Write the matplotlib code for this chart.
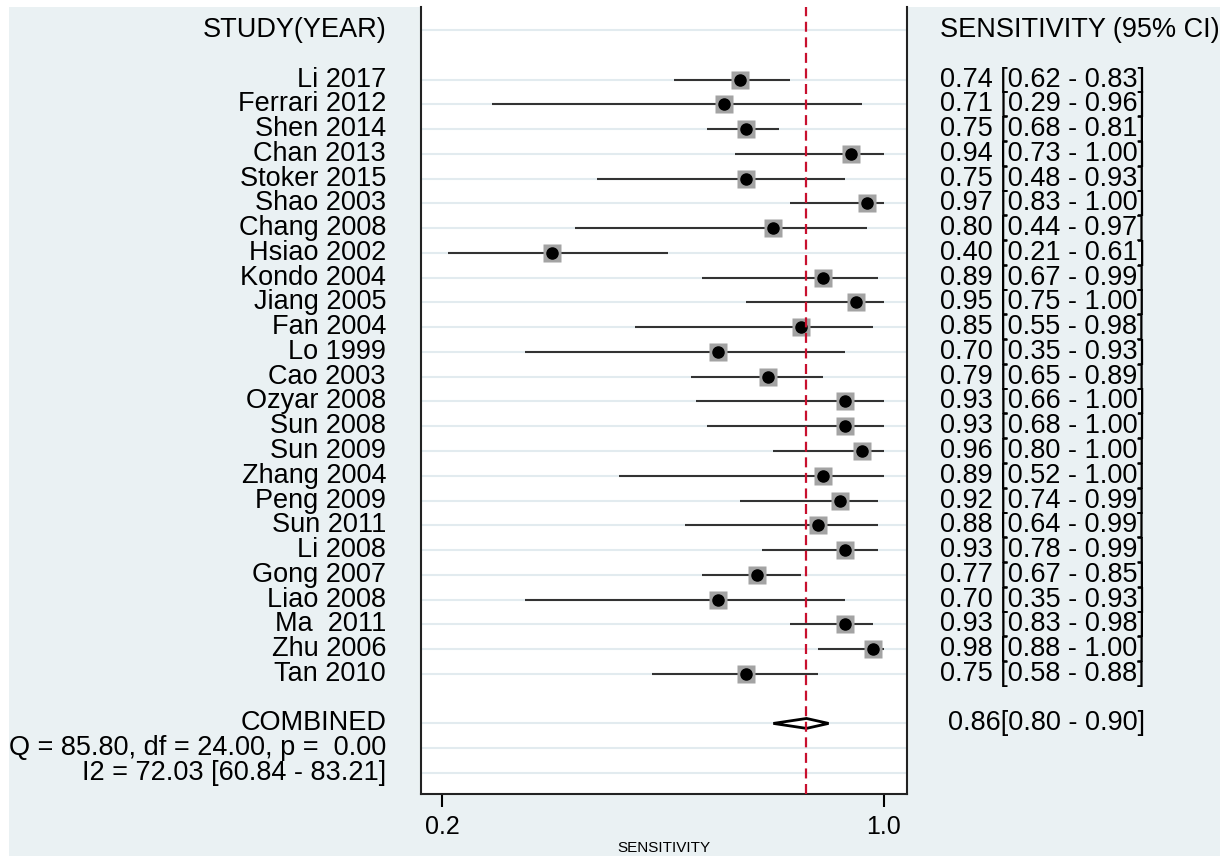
import numpy as np
import matplotlib
matplotlib.use('Agg')
import matplotlib.pyplot as plt
from matplotlib.patches import Rectangle
from matplotlib.transforms import blended_transform_factory

plt.rcParams['font.family'] = ['Liberation Sans', 'DejaVu Sans']

# dados do forest plot
estudos = ["Li 2017", "Ferrari 2012", "Shen 2014", "Chan 2013", "Stoker 2015",
           "Shao 2003", "Chang 2008", "Hsiao 2002", "Kondo 2004", "Jiang 2005",
           "Fan 2004", "Lo 1999", "Cao 2003", "Ozyar 2008", "Sun 2008",
           "Sun 2009", "Zhang 2004", "Peng 2009", "Sun 2011", "Li 2008",
           "Gong 2007", "Liao 2008", "Ma  2011", "Zhu 2006", "Tan 2010"]
sens = [0.74, 0.71, 0.75, 0.94, 0.75, 0.97, 0.80, 0.40, 0.89, 0.95, 0.85, 0.70, 0.79,
        0.93, 0.93, 0.96, 0.89, 0.92, 0.88, 0.93, 0.77, 0.70, 0.93, 0.98, 0.75]
ci_lo = [0.62, 0.29, 0.68, 0.73, 0.48, 0.83, 0.44, 0.21, 0.67, 0.75, 0.55, 0.35, 0.65,
         0.66, 0.68, 0.80, 0.52, 0.74, 0.64, 0.78, 0.67, 0.35, 0.83, 0.88, 0.58]
ci_hi = [0.83, 0.96, 0.81, 1.00, 0.93, 1.00, 0.97, 0.61, 0.99, 1.00, 0.98, 0.93, 0.89,
         1.00, 1.00, 1.00, 1.00, 0.99, 0.99, 0.99, 0.85, 0.93, 0.98, 1.00, 0.88]
comb = 0.86
comb_lo = 0.80
comb_hi = 0.90
stats_txt = ["Q = 85.80, df = 24.00, p =  0.00", "I2 = 72.03 [60.84 - 83.21]"]
xticks = [0.2, 1.0]

W, H = 1232, 856
fig = plt.figure(figsize=(W / 100, H / 100), dpi=100, facecolor='white')
# fundo azulado estilo stata
fig.patches.append(Rectangle((9 / W, 0), (1220 - 9) / W, 1 - 7 / H,
                             transform=fig.transFigure, facecolor='#eaf1f3',
                             edgecolor='none', zorder=-10))

ax = fig.add_axes([421 / W, 1 - 794 / H, (907 - 421) / W, (794 - 7) / H])
ax.set_facecolor('white')

n = len(estudos)
ys = np.arange(2, 2 + n)
y_comb = n + 3

# linhas de grade
for y in [0] + list(ys) + [y_comb, y_comb + 1, y_comb + 2]:
    ax.axhline(y, color='#e2ebef', lw=1.5, zorder=1)

ax.hlines(ys, ci_lo, ci_hi, color='#333333', lw=1.5, zorder=2)
ax.plot(sens, ys, 's', color='#a3a3a3', ms=13.5, mec='none', zorder=3)
ax.plot(sens, ys, 'o', color='black', ms=8, zorder=4)

# diamante do combinado
ax.fill([comb_lo, comb, comb_hi, comb], [y_comb, y_comb - 0.2, y_comb, y_comb + 0.2],
        facecolor='white', edgecolor='black', lw=2, zorder=4)

ax.axvline(comb, color='#c8102e', lw=1.6, ls=(0, (4.5, 2.5)), zorder=6)

ax.set_xlim(0.162, 1.042)
ax.set_ylim(30.85, -0.93)
ax.set_yticks([])
ax.set_xticks(xticks)
ax.set_xticklabels(['%.1f' % t for t in xticks], fontsize=18)
ax.tick_params(axis='x', length=9, width=1.5, pad=6, direction='out')
ax.spines['top'].set_visible(False)
for s in ['left', 'right', 'bottom']:
    ax.spines[s].set_linewidth(1.5)
    ax.spines[s].set_color('#222222')

tr = blended_transform_factory(fig.transFigure, ax.transData)
fs = 19.5
xl = 386 / W
xr = 940 / W
ax.text(xl, 0, "STUDY(YEAR)", transform=tr, ha='right', va='center', fontsize=fs)
ax.text(xr, 0, "SENSITIVITY (95% CI)", transform=tr, ha='left', va='center', fontsize=fs)
for y, nome, s, a, b in zip(ys, estudos, sens, ci_lo, ci_hi):
    ax.text(xl, y, nome, transform=tr, ha='right', va='center', fontsize=fs)
    ax.text(xr, y, '%.2f [%.2f - %.2f]' % (s, a, b), transform=tr, ha='left',
            va='center', fontsize=fs)
ax.text(xl, y_comb, "COMBINED", transform=tr, ha='right', va='center', fontsize=fs)
ax.text(948 / W, y_comb, '%.2f[%.2f - %.2f]' % (comb, comb_lo, comb_hi), transform=tr,
        ha='left', va='center', fontsize=fs)
for i, t in enumerate(stats_txt):
    ax.text(xl, y_comb + 1 + i, t, transform=tr, ha='right', va='center', fontsize=fs)

fig.text(664 / W, 1 - 841 / H, "SENSITIVITY", ha='center', va='top', fontsize=11)

fig.savefig('out.png', dpi=100, facecolor='white')
